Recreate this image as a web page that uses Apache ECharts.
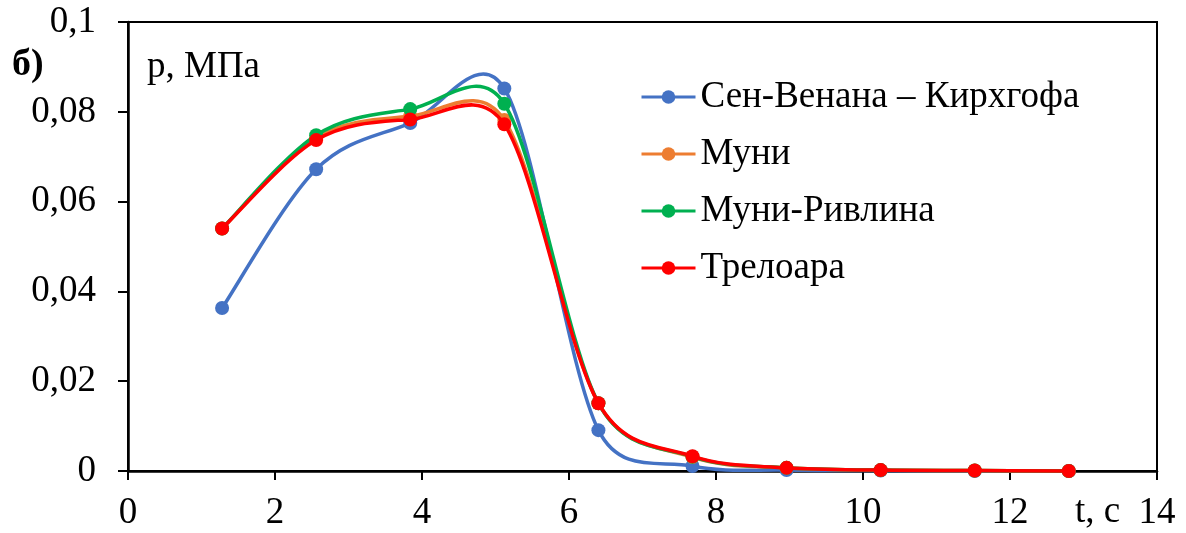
<!DOCTYPE html>
<html>
<head>
<meta charset="utf-8">
<script src="https://cdn.jsdelivr.net/npm/echarts@6/dist/echarts.min.js"></script>
<style>
  html, body { margin: 0; padding: 0; background: #fff; }
  #chart { width: 1186px; height: 533px; }
</style>
</head>
<body>
<div id="chart"></div>
<script>
// Время, с
const times = [1.28, 2.56, 3.84, 5.12, 6.4, 7.68, 8.96, 10.24, 11.52, 12.8];

// Давление, МПа, по разным моделям материала
const stVenantKirchhoff = [0.0363, 0.0672, 0.0775, 0.0852, 0.0091, 0.0011, 0.0002, 0.0001, 0.0000, 0.0000];
const mooney            = [0.0540, 0.0742, 0.0790, 0.0782, 0.0151, 0.0031, 0.0007, 0.0002, 0.0001, 0.0000];
const mooneyRivlin      = [0.0540, 0.0748, 0.0806, 0.0818, 0.0151, 0.0032, 0.0007, 0.0002, 0.0001, 0.0000];
const treloar           = [0.0540, 0.0737, 0.0783, 0.0772, 0.0151, 0.0033, 0.0007, 0.0002, 0.0001, 0.0000];

const seriesNames  = ['Сен-Венана – Кирхгофа', 'Муни', 'Муни-Ривлина', 'Трелоара'];
const seriesValues = [stVenantKirchhoff, mooney, mooneyRivlin, treloar];
const seriesColors = ['#4472C4', '#ED7D31', '#00B050', '#FF0000'];

const xTicks = { min: 0, max: 14, interval: 2 };
const yTicks = { min: 0, max: 0.1, interval: 0.02 };

const FONT = 'Liberation Serif, Times New Roman, serif';
const FS = 37;
const LINE_W = 3.5;

const chart = echarts.init(document.getElementById('chart'), null, { renderer: 'canvas' });

// Smooth curve through the points: cubic Bezier segments with Catmull-Rom
// tangents ((next - prev) / 6), each control arm limited to half of the
// segment length so short segments next to steep ones do not overshoot.
function controlArm(a, b, segLen) {
  let dx = (b[0] - a[0]) / 6, dy = (b[1] - a[1]) / 6;
  const len = Math.hypot(dx, dy), lim = 0.5 * segLen;
  if (len > lim && len > 0) { dx *= lim / len; dy *= lim / len; }
  return [dx, dy];
}

function curveSeries(i) {
  const vals = seriesValues[i];
  const n = times.length;
  return {
    name: 'curve ' + seriesNames[i],
    type: 'custom',
    data: times.map((t, k) => [t, vals[k]]),
    encode: { x: 0, y: 1 },
    z: 2 + 2 * i,
    silent: true,
    renderItem: (params, api) => {
      const k = params.dataIndex;
      if (k >= n - 1) return null;
      const pt = j => {
        const c = Math.max(0, Math.min(n - 1, j));
        return api.coord([times[c], vals[c]]);
      };
      const p0 = pt(k - 1), p1 = pt(k), p2 = pt(k + 1), p3 = pt(k + 2);
      const seg = Math.hypot(p2[0] - p1[0], p2[1] - p1[1]);
      const a1 = controlArm(p0, p2, seg);
      const a2 = controlArm(p1, p3, seg);
      return {
        type: 'bezierCurve',
        shape: {
          x1: p1[0], y1: p1[1],
          cpx1: p1[0] + a1[0], cpy1: p1[1] + a1[1],
          cpx2: p2[0] - a2[0], cpy2: p2[1] - a2[1],
          x2: p2[0], y2: p2[1]
        },
        style: { stroke: seriesColors[i], lineWidth: LINE_W, fill: null, lineCap: 'round' }
      };
    },
    animation: false
  };
}

// Markers and legend entries
function markerSeries(i) {
  return {
    name: seriesNames[i],
    type: 'line',
    data: times.map((t, k) => [t, seriesValues[i][k]]),
    symbol: 'circle',
    symbolSize: 14,
    showAllSymbol: true,
    color: seriesColors[i],
    lineStyle: { width: LINE_W, color: seriesColors[i], opacity: 0 },
    itemStyle: { color: seriesColors[i] },
    z: 3 + 2 * i,
    animation: false
  };
}

const series = [];
seriesNames.forEach((_, i) => { series.push(curveSeries(i)); series.push(markerSeries(i)); });

const decimalComma = v => {
  if (Math.abs(v) < 1e-12) return '0';
  return String(+v.toFixed(4)).replace('.', ',');
};

chart.setOption({
  animation: false,
  backgroundColor: '#fff',
  grid: {
    left: 128, right: 29, top: 22, bottom: 62,
    show: true, borderColor: '#000', borderWidth: 2, backgroundColor: 'transparent'
  },
  legend: {
    orient: 'vertical',
    left: 640, top: 78, padding: 0,
    itemWidth: 54, itemHeight: 17, itemGap: 19,
    lineStyle: { width: 3, opacity: 1 },
    textStyle: { fontFamily: FONT, fontSize: FS, color: '#000', lineHeight: 38 },
    data: seriesNames
  },
  xAxis: {
    type: 'value',
    min: xTicks.min, max: xTicks.max, interval: xTicks.interval,
    axisLine: { show: true, lineStyle: { color: '#000', width: 2.5 } },
    axisTick: { show: true, inside: false, length: 9, lineStyle: { color: '#000', width: 2 } },
    axisLabel: { fontFamily: FONT, fontSize: FS, color: '#000', margin: 24, formatter: decimalComma },
    splitLine: { show: false }
  },
  yAxis: {
    type: 'value',
    min: yTicks.min, max: yTicks.max, interval: yTicks.interval,
    axisLine: { show: true, lineStyle: { color: '#000', width: 2.5 } },
    axisTick: { show: true, inside: false, length: 10, lineStyle: { color: '#000', width: 2 } },
    axisLabel: { fontFamily: FONT, fontSize: FS, color: '#000', margin: 32, formatter: decimalComma },
    splitLine: { show: false }
  },
  graphic: [
    { type: 'text', left: 12, top: 46, style: { text: 'б)', fontFamily: FONT, fontSize: 38, fontWeight: 'bold', fill: '#000' } },
    { type: 'text', left: 147, top: 49, style: { text: 'р, МПа', fontFamily: FONT, fontSize: FS, fill: '#000' } },
    { type: 'text', left: 1075, top: 494, style: { text: 't, с', fontFamily: FONT, fontSize: FS, fill: '#000' } }
  ],
  series
});
</script>
</body>
</html>
